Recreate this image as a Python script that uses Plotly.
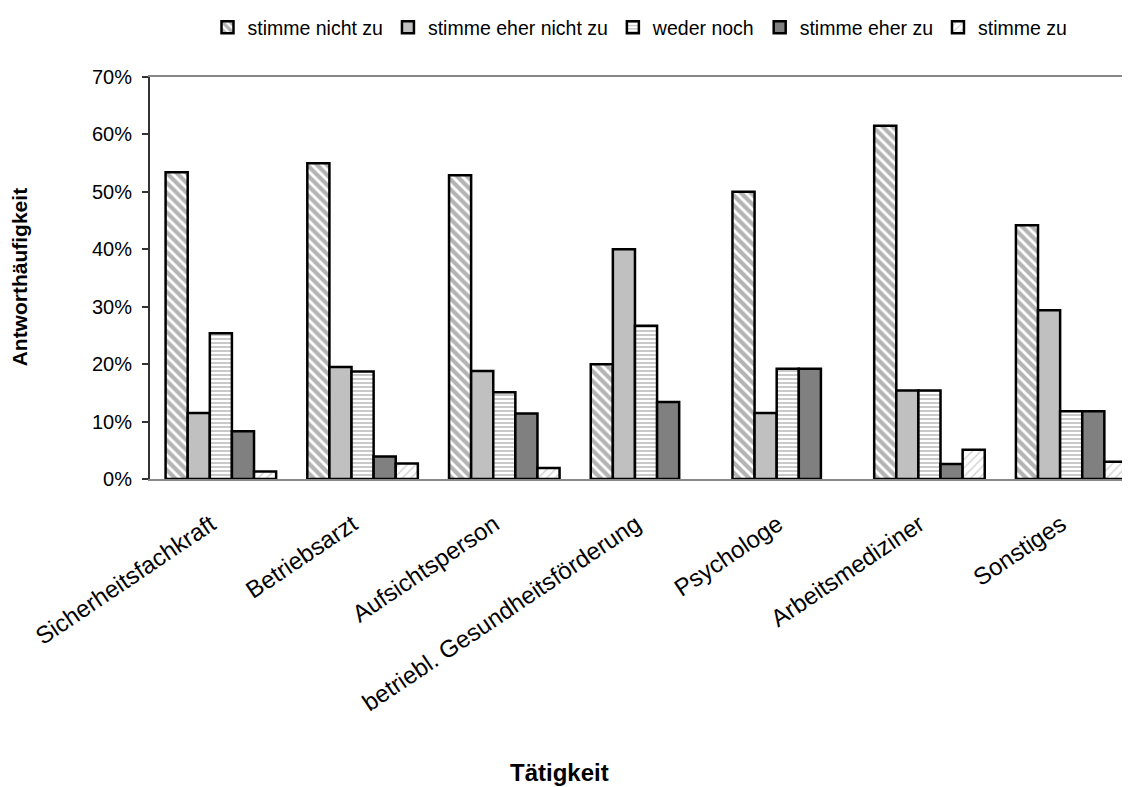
import plotly.graph_objects as go

# Kategorien (Tätigkeit) und Antwortanteile in %
CATEGORIES = [
    "Sicherheitsfachkraft",
    "Betriebsarzt",
    "Aufsichtsperson",
    "betriebl. Gesundheitsförderung",
    "Psychologe",
    "Arbeitsmediziner",
    "Sonstiges",
]
NICHT_ZU = [53.4, 55.0, 52.9, 20.0, 50.0, 61.5, 44.2]
EHER_NICHT_ZU = [11.5, 19.5, 18.8, 40.0, 11.5, 15.4, 29.4]
WEDER_NOCH = [25.4, 18.7, 15.1, 26.7, 19.2, 15.4, 11.8]
EHER_ZU = [8.3, 3.9, 11.4, 13.4, 19.2, 2.6, 11.8]
ZU = [1.3, 2.7, 1.9, None, None, 5.1, 3.0]

Y_TICKS = [0, 10, 20, 30, 40, 50, 60, 70]

FONT = "Liberation Sans, Arial, sans-serif"

SERIES = [
    ("stimme nicht zu", NICHT_ZU, dict(shape="\\", fgcolor="#6a6a6a", bgcolor="white", size=7, solidity=0.6)),
    ("stimme eher nicht zu", EHER_NICHT_ZU, None),
    ("weder noch", WEDER_NOCH, dict(shape="-", fgcolor="#888888", bgcolor="white", size=4, solidity=0.45)),
    ("stimme eher zu", EHER_ZU, None),
    ("stimme zu", ZU, dict(shape="/", fgcolor="#aaaaaa", bgcolor="white", size=6, solidity=0.25)),
]
SOLID = {"stimme eher nicht zu": "#c0c0c0", "stimme eher zu": "#808080"}

fig = go.Figure()
for name, values, pattern in SERIES:
    marker = dict(line=dict(color="black", width=2.5))
    if pattern:
        marker["color"] = "white"
        marker["pattern"] = pattern
    else:
        marker["color"] = SOLID[name]
    fig.add_trace(go.Bar(x=CATEGORIES, y=values, name=name, marker=marker))

# the page puts the figure 8px in from the top left corner
fig.update_layout(
    width=1122,
    height=779,
    barmode="group",
    bargap=0.22,
    bargroupgap=0,
    plot_bgcolor="white",
    paper_bgcolor="white",
    font=dict(family=FONT, color="black", size=20),
    margin=dict(l=142, r=0, t=69, b=308),
    showlegend=True,
    legend=dict(
        orientation="h",
        x=0.5,
        xanchor="center",
        yref="container",
        y=1.0,
        yanchor="top",
        font=dict(size=19.5),
        itemwidth=30,
        traceorder="normal",
    ),
    xaxis=dict(
        range=[-0.5, 6.415],
        showline=True,
        linecolor="#888888",
        linewidth=2,
        mirror=True,
        ticks="",
        tickangle=-34,
        tickfont=dict(size=24),
        ticklabelstandoff=20,
        ticklabelshift=-10,
        showgrid=False,
    ),
    yaxis=dict(
        range=[0, 70],
        tickvals=Y_TICKS,
        ticktext=[f"{v}%" for v in Y_TICKS],
        showline=True,
        linecolor="#333333",
        linewidth=2,
        ticks="outside",
        ticklen=6,
        tickcolor="#333333",
        tickwidth=2,
        tickfont=dict(size=20),
        ticklabelstandoff=6,
        showgrid=False,
        zeroline=False,
    ),
    annotations=[
        dict(
            text="<b>Antworthäufigkeit</b>",
            xref="paper", yref="paper",
            x=-0.1337, y=0.504,
            xanchor="center", yanchor="middle",
            textangle=-90,
            showarrow=False,
            font=dict(size=21),
        ),
        dict(
            text="<b>Tätigkeit</b>",
            xref="paper", yref="paper",
            x=0.418, y=-0.73,
            xanchor="center", yanchor="middle",
            showarrow=False,
            font=dict(size=24),
        ),
    ],
)

fig.write_html("out.html")
